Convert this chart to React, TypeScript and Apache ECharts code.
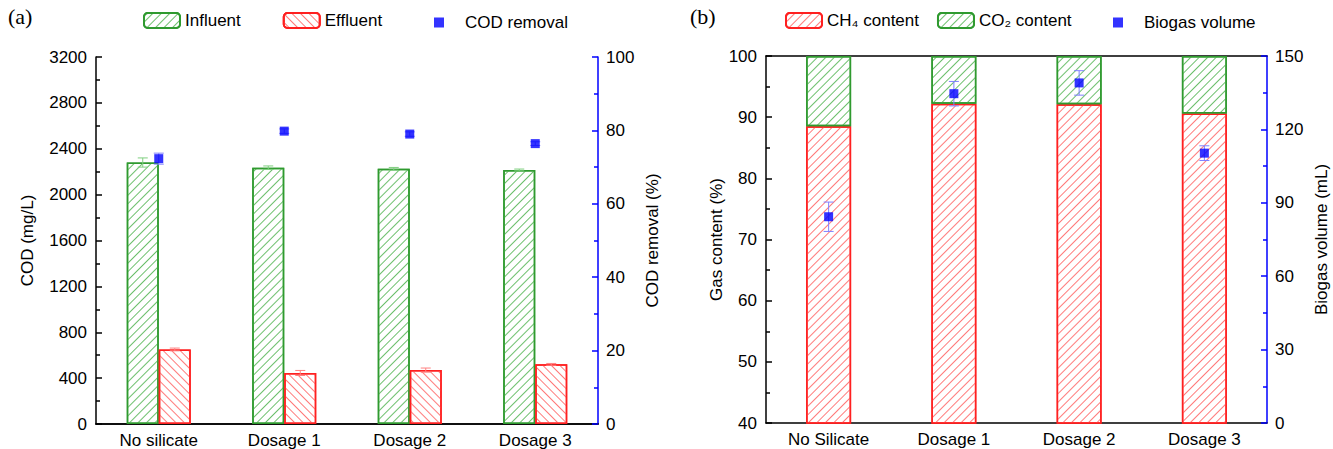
import React, { useEffect, useRef } from 'react';
import * as echarts from 'echarts';

// ---------- data ----------
const catsA = ['No silicate', 'Dosage 1', 'Dosage 2', 'Dosage 3'];
const influent = [2280, 2235, 2225, 2215];
const influentErr = [40, 15, 12, 8];
const effluent = [650, 445, 470, 520];
const effluentErr = [12, 22, 18, 8];
const codRemoval = [72.3, 79.8, 79.0, 76.4];
const codRemovalErr = [1.5, 0.6, 0.6, 0.5];

const catsB = ['No Silicate', 'Dosage 1', 'Dosage 2', 'Dosage 3'];
const ch4 = [88.5, 92.2, 92.1, 90.6];
const co2 = [11.5, 7.8, 7.9, 9.4];
const biogas = [84.3, 134.6, 139.0, 110.3];
const biogasErr = [6, 5, 5, 3];

const FONT = 'Liberation Sans, Arial, sans-serif';
const GREEN = '#2f9a2f';
const GREEN_H = '#6cbf6c';
const RED = '#ff2020';
const RED_H = '#ff7a7a';
const BLUE = '#0000ff';

const hatch = (color: string, dir: 1 | -1) => ({
  symbol: 'rect',
  symbolSize: 1,
  color,
  backgroundColor: '#ffffff',
  dashArrayX: [1, 0],
  dashArrayY: [1, 4.5],
  rotation: (dir * Math.PI) / 4,
});

const errSeries = (
  name: string,
  vals: number[],
  errs: number[],
  xAxisIndex: number,
  yAxisIndex: number,
  color: string,
  offset: number,
  cap: number
) => ({
  type: 'custom',
  name,
  xAxisIndex,
  yAxisIndex,
  z: 5,
  silent: true,
  encode: { x: 0, y: 1 },
  data: vals.map((v, i) => [i, v, errs[i]]),
  renderItem: (params: any, api: any) => {
    const i = api.value(0);
    const v = api.value(1);
    const e = api.value(2);
    const hi = api.coord([i, v + e]);
    const lo = api.coord([i, v - e]);
    const cx = hi[0] + offset;
    const style = { stroke: color, lineWidth: 1 };
    return {
      type: 'group',
      children: [
        { type: 'line', shape: { x1: cx, y1: hi[1], x2: cx, y2: lo[1] }, style },
        { type: 'line', shape: { x1: cx - cap, y1: hi[1], x2: cx + cap, y2: hi[1] }, style },
        { type: 'line', shape: { x1: cx - cap, y1: lo[1], x2: cx + cap, y2: lo[1] }, style },
      ],
    };
  },
});

const labelStyle = { color: '#000', fontSize: 17, fontFamily: FONT };
const plain = (v: number) => String(v);

const leftY = (min: number, max: number, interval: number, name: string, gridIndex: number, nameGap: number) => ({
  type: 'value',
  gridIndex,
  min,
  max,
  interval,
  position: 'left',
  name,
  nameLocation: 'middle',
  nameRotate: 90,
  nameGap,
  nameTextStyle: { ...labelStyle },
  axisLine: { show: true, lineStyle: { color: '#000', width: 1.5 } },
  axisTick: { show: true, inside: true, length: 6, lineStyle: { color: '#000', width: 1.5 } },
  minorTick: { show: true, splitNumber: 2, length: 4, lineStyle: { color: '#000', width: 1.5 } },
  axisLabel: { ...labelStyle, margin: 9, formatter: plain },
  splitLine: { show: false },
});

const rightY = (min: number, max: number, interval: number, name: string, gridIndex: number, nameGap: number) => ({
  type: 'value',
  gridIndex,
  min,
  max,
  interval,
  position: 'right',
  name,
  nameLocation: 'middle',
  nameRotate: 90,
  nameGap,
  nameTextStyle: { ...labelStyle },
  axisLine: { show: true, lineStyle: { color: BLUE, width: 1.5 } },
  axisTick: { show: true, inside: true, length: 6, lineStyle: { color: BLUE, width: 1.5 } },
  minorTick: { show: true, splitNumber: 2, length: 4, lineStyle: { color: BLUE, width: 1.5 } },
  axisLabel: { ...labelStyle, margin: 8, formatter: plain },
  splitLine: { show: false },
});

const bottomX = (data: string[], gridIndex: number) => ({
  type: 'category',
  gridIndex,
  data,
  position: 'bottom',
  axisLine: { show: true, lineStyle: { color: '#000', width: 1.5 } },
  axisTick: { show: false },
  axisLabel: { ...labelStyle, margin: 8, interval: 0 },
  splitLine: { show: false },
});

const topX = (data: string[], gridIndex: number) => ({
  type: 'category',
  gridIndex,
  data,
  position: 'top',
  axisLine: { show: true, lineStyle: { color: '#000', width: 1.5 } },
  axisTick: { show: false },
  axisLabel: { show: false },
  splitLine: { show: false },
});

export default function App() {
  const ref = useRef<HTMLDivElement>(null);
  useEffect(() => {
    if (!ref.current) return;
    const chart = echarts.init(ref.current, undefined, { renderer: 'svg' });
    const option: any = {
      animation: false,
      backgroundColor: '#ffffff',
      textStyle: { fontFamily: FONT },
      grid: [
        { left: 96, top: 57, width: 502, height: 367 },
        { left: 766, top: 56, width: 501, height: 367 },
      ],
      xAxis: [bottomX(catsA, 0), topX(catsA, 0), bottomX(catsB, 1), topX(catsB, 1)],
      yAxis: [
        leftY(0, 3200, 400, 'COD (mg/L)', 0, 60),
        rightY(0, 100, 20, 'COD removal (%)', 0, 46),
        leftY(40, 100, 10, 'Gas content (%)', 1, 40),
        rightY(0, 150, 30, 'Biogas volume (mL)', 1, 46),
      ],
      legend: [
        {
          data: ['Influent', 'Effluent'],
          left: 138,
          top: 7,
          itemWidth: 36,
          itemHeight: 15,
          itemGap: 42,
          textStyle: { ...labelStyle },
        },
        {
          data: [{ name: 'COD removal', icon: 'rect' }],
          left: 429,
          top: 9,
          itemWidth: 10,
          itemHeight: 10,
          textStyle: { ...labelStyle, padding: [0, 0, 0, 16] },
        },
        {
          data: ['CH₄ content', 'CO₂ content'],
          left: 780,
          top: 7,
          itemWidth: 36,
          itemHeight: 15,
          itemGap: 18,
          textStyle: { ...labelStyle },
        },
        {
          data: [{ name: 'Biogas volume', icon: 'rect' }],
          left: 1108,
          top: 9,
          itemWidth: 10,
          itemHeight: 10,
          textStyle: { ...labelStyle, padding: [0, 0, 0, 16] },
        },
      ],
      graphic: [
        { type: 'text', left: 8, top: 5, style: { text: '(a)', fontSize: 22, fontFamily: 'Liberation Serif, Times New Roman, serif', fill: '#000' } },
        { type: 'text', left: 690, top: 5, style: { text: '(b)', fontSize: 22, fontFamily: 'Liberation Serif, Times New Roman, serif', fill: '#000' } },
      ],
      series: [
        {
          type: 'bar',
          name: 'Influent',
          xAxisIndex: 0,
          yAxisIndex: 0,
          data: influent,
          barWidth: 32,
          barGap: '0%',
          itemStyle: { color: '#ffffff', borderColor: GREEN, borderWidth: 1.5, decal: hatch(GREEN_H, -1) },
        },
        {
          type: 'bar',
          name: 'Effluent',
          xAxisIndex: 0,
          yAxisIndex: 0,
          data: effluent,
          barWidth: 32,
          barGap: '0%',
          itemStyle: { color: '#ffffff', borderColor: RED, borderWidth: 1.5, decal: hatch(RED_H, 1) },
        },
        errSeries('influentErr', influent, influentErr, 0, 0, '#7fcf7f', -16, 5),
        errSeries('effluentErr', effluent, effluentErr, 0, 0, '#ff8080', 16, 5),
        errSeries('codErr', codRemoval, codRemovalErr, 0, 1, '#8080ff', 0, 5),
        {
          type: 'scatter',
          name: 'COD removal',
          xAxisIndex: 0,
          yAxisIndex: 1,
          data: codRemoval,
          symbol: 'rect',
          symbolSize: 9,
          z: 6,
          itemStyle: { color: BLUE },
        },
        {
          type: 'bar',
          name: 'CH₄ content',
          xAxisIndex: 2,
          yAxisIndex: 2,
          stack: 'gas',
          data: ch4,
          barWidth: 45,
          itemStyle: { color: '#ffffff', borderColor: RED, borderWidth: 1.5, decal: hatch(RED_H, -1) },
        },
        {
          type: 'bar',
          name: 'CO₂ content',
          xAxisIndex: 2,
          yAxisIndex: 2,
          stack: 'gas',
          data: co2,
          barWidth: 45,
          itemStyle: { color: '#ffffff', borderColor: GREEN, borderWidth: 1.5, decal: hatch(GREEN_H, -1) },
        },
        errSeries('biogasErr', biogas, biogasErr, 2, 3, '#8080ff', 0, 5),
        {
          type: 'scatter',
          name: 'Biogas volume',
          xAxisIndex: 2,
          yAxisIndex: 3,
          data: biogas,
          symbol: 'rect',
          symbolSize: 9,
          z: 6,
          itemStyle: { color: BLUE },
        },
      ],
    };
    chart.setOption(option);
    return () => chart.dispose();
  }, []);
  return (
    <div
      ref={ref}
      style={{ position: 'absolute', left: 0, top: 0, width: 1333, height: 449, background: '#fff' }}
    />
  );
}
